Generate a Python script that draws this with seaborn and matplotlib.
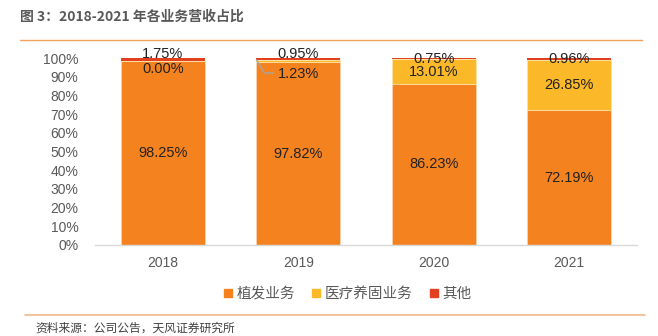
import matplotlib
matplotlib.use("Agg")
import matplotlib.pyplot as plt
import seaborn as sns
import pandas as pd
from matplotlib.lines import Line2D

years = ["2018", "2019", "2020", "2021"]
hair = [98.25, 97.82, 86.23, 72.19]
medical = [0.00, 1.23, 13.01, 26.85]
other = [1.75, 0.95, 0.75, 0.96]
series_names = ["植发业务", "医疗养固业务", "其他"]
yticks = list(range(0, 101, 10))

# label vertical positions (style/layout)
other_label_y = [102.2, 102.2, 99.6, 99.2]
med_label_y = [94.0, 91.4, 92.6, 85.6]

colors = ["#F4831F", "#FBB829", "#E2401F"]

sns.set_theme(style="white")
plt.rcParams['font.family'] = ['Liberation Sans', 'Noto Sans CJK SC', 'DejaVu Sans']

fig = plt.figure(figsize=(6.58, 3.36), dpi=100)
ax = fig.add_axes([95/658, 1-245/336, 542/658, 187/336])

df = pd.DataFrame({"year": years, "hair": hair, "medical": medical, "other": other})
df["b2"] = df["hair"]
df["b3"] = df["hair"] + df["medical"]

w = 0.62
sns.barplot(data=df, x="year", y="hair", color=colors[0], width=w, ax=ax,
            saturation=1, edgecolor="#FBD3B0", linewidth=0.6)
sns.barplot(data=df, x="year", y="medical", bottom=df["b2"], color=colors[1], width=w,
            ax=ax, saturation=1, edgecolor="#FCE2A8", linewidth=0.6)
sns.barplot(data=df, x="year", y="other", bottom=df["b3"], color=colors[2], width=w,
            ax=ax, saturation=1, linewidth=0)

ax.set_ylim(0, 100)
ax.set_xlim(-0.5, 3.5)
ax.set_yticks(yticks)
ax.set_yticklabels([f"{t}%" for t in yticks])
ax.set_xlabel("")
ax.set_ylabel("")
for s in ["top", "right", "left"]:
    ax.spines[s].set_visible(False)
ax.spines["bottom"].set_color("#D9D9D9")
ax.spines["bottom"].set_linewidth(1.0)
ax.tick_params(axis="y", length=0, labelsize=10, labelcolor="#595959", pad=12)
ax.tick_params(axis="x", length=0, labelsize=10, labelcolor="#595959", pad=8)

lab_fs = 10.5
for i in range(len(years)):
    ax.text(i, hair[i] / 2, f"{hair[i]:.2f}%", ha="center", va="center",
            fontsize=lab_fs, color="#222222")
    ax.text(i, other_label_y[i], f"{other[i]:.2f}%", ha="center", va="center",
            fontsize=lab_fs, color="#222222", clip_on=False)
    ax.text(i, med_label_y[i], f"{medical[i]:.2f}%", ha="center", va="center",
            fontsize=lab_fs, color="#222222")

# leader line for 2019 medical label
ax.plot([1 - w/2, 1 - w/2 + 0.06, 1 - w/2 + 0.13], [99.2, 92.0, 92.0],
        color="#A6A6A6", lw=1.0, solid_capstyle="butt", zorder=5)

handles = [Line2D([0], [0], marker="s", linestyle="", markersize=6,
                  markerfacecolor=c, markeredgecolor=c) for c in colors]
fig.legend(handles, series_names, loc="center", bbox_to_anchor=(347/658, 1-294/336),
           ncol=3, frameon=False, handlelength=0.7, handletextpad=0.25, columnspacing=1.1,
           labelcolor="#595959", prop={"family": ["Noto Sans CJK SC"], "size": 10.5})

# title and decorations
fig.text(20/658, 1-17/336, "图 3：2018-2021 年各业务营收占比", fontsize=10, fontweight="bold",
         color="#595959", va="center", ha="left", family=["Noto Sans CJK SC"])
fig.add_artist(Line2D([20/658, 642/658], [1-40/336, 1-40/336], color="#F0A25C", lw=1.0))
fig.add_artist(Line2D([25/658, 645/658], [1-315/336, 1-315/336], color="#F4B98A", lw=1.2))
fig.text(35/658, 1-328/336, "资料来源：公司公告，天风证券研究所", fontsize=8.5,
         color="#404040", va="center", ha="left", family=["Noto Sans CJK SC"])

fig.savefig("out.png", dpi=100)
